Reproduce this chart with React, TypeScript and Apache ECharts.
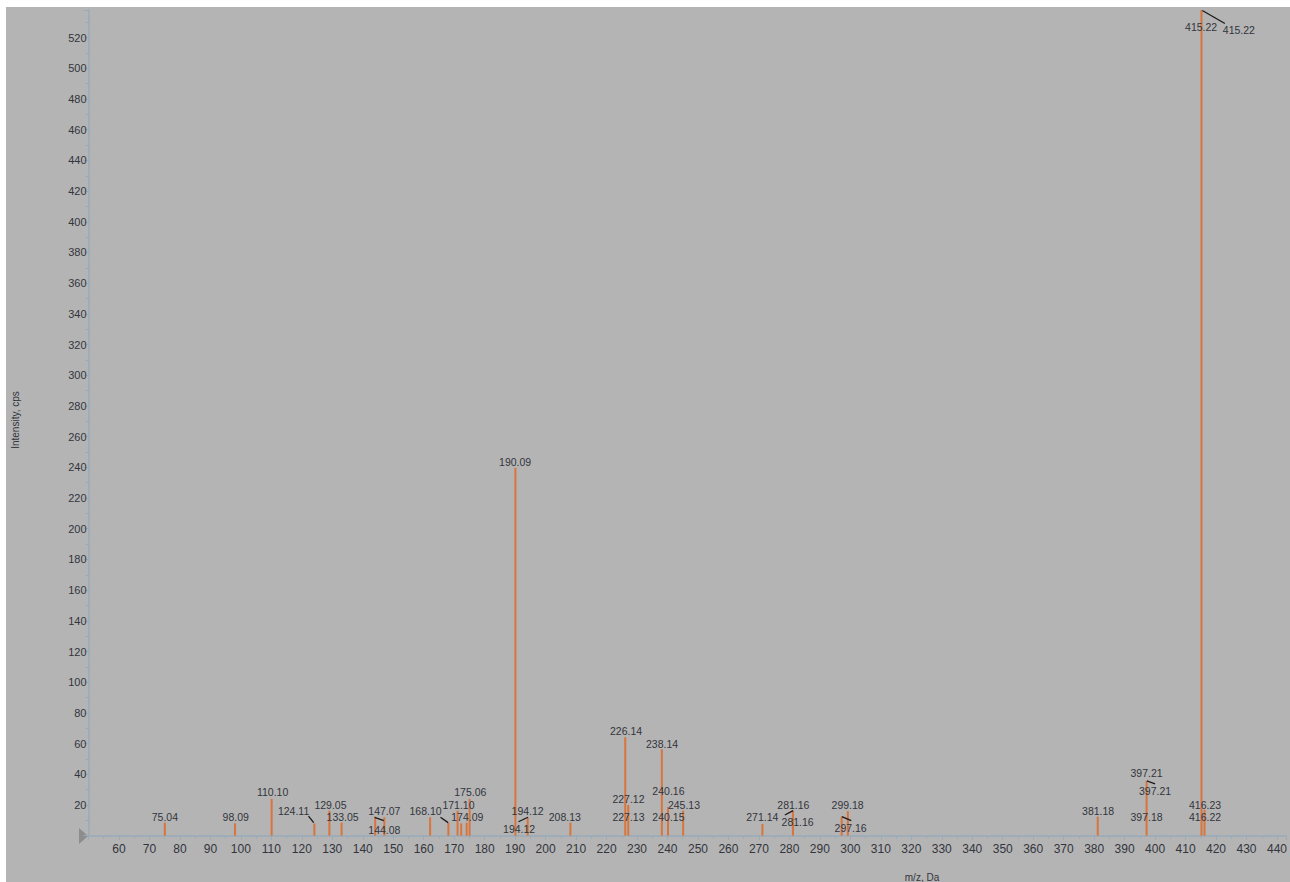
import React, { useEffect, useRef } from "react";
import * as echarts from "echarts";

// Peaks: m/z and intensity (cps)
const peakMz = [75.04, 98.09, 110.1, 124.11, 129.05, 133.05, 144.08, 147.07, 162.1, 168.1, 171.1, 172.3, 174.09, 175.06, 190.09, 194.12, 208.13, 226.14, 227.12, 238.14, 240.16, 245.13, 271.14, 281.16, 297.16, 299.18, 381.18, 397.21, 415.22, 416.22];
const peakIntensity = [8.5, 8.1, 24, 8, 16.3, 8.5, 12.4, 12, 12, 8.5, 16.3, 8, 8.5, 24, 239.7, 12, 8.5, 64.2, 20, 56.3, 18.7, 16.3, 7.6, 16.3, 12.4, 16, 12.4, 35.7, 538, 16.8];

// Peak annotations: text and its anchor in data units (m/z, intensity)
const labelText = ["75.04", "98.09", "110.10", "124.11", "129.05", "133.05", "144.08", "147.07", "168.10", "171.10", "174.09", "175.06", "190.09", "194.12", "194.12", "208.13", "226.14", "227.12", "227.13", "238.14", "240.16", "240.15", "245.13", "271.14", "281.16", "281.16", "297.16", "299.18", "381.18", "397.21", "397.21", "397.18", "416.23", "416.22", "415.22", "415.22"];
const labelMz = [75.07, 98.3, 110.4, 117.3, 129.4, 133.4, 147.1, 147.1, 160.6, 171.4, 174.3, 175.3, 190.0, 194.1, 191.3, 206.3, 226.4, 227.2, 227.2, 238.2, 240.3, 240.3, 245.4, 271.1, 281.3, 282.7, 300.1, 299.1, 381.3, 397.2, 400.0, 397.2, 416.4, 416.4, 415.1, 427.5];
const labelIntensity = [11.9, 11.9, 28.2, 16.1, 20.0, 12.2, 4.0, 16.4, 16.4, 20.3, 12.2, 28.5, 243.6, 16.4, 4.4, 12.2, 67.9, 23.6, 12.5, 59.8, 28.8, 12.5, 20.3, 11.9, 20.3, 8.9, 4.7, 20.3, 16.4, 40.6, 28.8, 12.5, 20.3, 12.2, 527.2, 525.0];

// Leader lines: [mz1, int1, mz2, int2]
const leaders = [
  [122.2, 12.8, 123.9, 8.5],
  [143.9, 12.0, 146.9, 9.8],
  [165.5, 12.0, 168.0, 8.5],
  [191.1, 9.1, 194.2, 12.0],
  [278.5, 13.5, 281.2, 16.3],
  [297.2, 12.4, 300.3, 9.8],
  [397.3, 35.7, 400.0, 33.7],
  [415.5, 537.7, 422.9, 529.2],
];

const xMin = 50;
const xMax = 443.0;
const yMin = 0;
const yMax = 538;

export default function App() {
  const ref = useRef<HTMLDivElement>(null);
  useEffect(() => {
    if (!ref.current) return;
    const chart = echarts.init(ref.current, null, { renderer: "svg" });
    const axisColor = "#97abba";
    const textColor = "#33343c";
    const font = "Liberation Sans, Arial, sans-serif";
    chart.setOption({
      animation: false,
      backgroundColor: "#b4b4b4",
      grid: { left: 82.5, right: 0, top: 3, bottom: 46.3, containLabel: false },
      xAxis: {
        type: "value",
        min: xMin,
        max: xMax,
        interval: 10,
        axisLine: { show: true, lineStyle: { color: axisColor, width: 1.5 } },
        axisTick: { show: true, length: 4, lineStyle: { color: axisColor } },
        minorTick: { show: true, splitNumber: 2, length: 3, lineStyle: { color: axisColor } },
        splitLine: { show: false },
        axisLabel: {
          color: textColor,
          fontSize: 12,
          fontFamily: font,
          margin: 7,
          formatter: (v: number) => (v === 50 || v % 10 !== 0 ? "" : String(v)),
        },
      },
      yAxis: {
        type: "value",
        min: yMin,
        max: yMax,
        interval: 20,
        axisLine: { show: true, lineStyle: { color: axisColor, width: 1.5 } },
        axisTick: { show: true, length: 5, lineStyle: { color: axisColor } },
        minorTick: { show: true, splitNumber: 2, length: 3, lineStyle: { color: axisColor } },
        splitLine: { show: false },
        axisLabel: {
          color: textColor,
          fontSize: 11,
          fontFamily: font,
          margin: 2,
          formatter: (v: number) => (v === 0 || v % 20 !== 0 ? "" : String(v)),
        },
      },
      graphic: [
        {
          type: "polygon",
          shape: { points: [[73, 821], [82, 829], [73, 837]] },
          style: { fill: "#8c8c8c" },
        },
        {
          type: "text",
          x: 916,
          y: 870,
          style: { text: "m/z, Da", fill: textColor, fontSize: 10, fontFamily: font, align: "center", verticalAlign: "middle" },
        },
        {
          type: "text",
          x: 9,
          y: 413,
          rotation: Math.PI / 2,
          style: { text: "Intensity, cps", fill: textColor, fontSize: 10, fontFamily: font, align: "center", verticalAlign: "middle" },
        },
      ],
      series: [
        {
          type: "custom",
          name: "peaks",
          clip: false,
          data: peakMz.map((m, i) => [m, peakIntensity[i]]),
          renderItem: (params: any, api: any) => {
            const top = api.coord([api.value(0), api.value(1)]);
            const base = api.coord([api.value(0), 0]);
            return {
              type: "rect",
              shape: { x: top[0] - 1, y: top[1], width: 2, height: base[1] - top[1] },
              style: { fill: "#d9743c" },
            };
          },
        },
        {
          type: "custom",
          name: "leaders",
          clip: false,
          data: leaders,
          renderItem: (params: any, api: any) => {
            const p1 = api.coord([api.value(0), api.value(1)]);
            const p2 = api.coord([api.value(2), api.value(3)]);
            return {
              type: "line",
              shape: { x1: p1[0], y1: p1[1], x2: p2[0], y2: p2[1] },
              style: { stroke: "#1a1a1a", lineWidth: 1.3 },
            };
          },
        },
        {
          type: "custom",
          name: "labels",
          clip: false,
          data: labelMz.map((m, i) => [m, labelIntensity[i], i]),
          renderItem: (params: any, api: any) => {
            const p = api.coord([api.value(0), api.value(1)]);
            const idx = api.value(2);
            return {
              type: "text",
              x: p[0],
              y: p[1],
              style: {
                text: labelText[idx],
                fill: textColor,
                fontSize: 10.5,
                fontFamily: font,
                align: "center",
                verticalAlign: "middle",
              },
            };
          },
        },
      ],
    });
    return () => chart.dispose();
  }, []);
  return (
    <div
      ref={ref}
      style={{ position: "fixed", left: 6, top: 7, width: 1284, height: 875 }}
    />
  );
}
